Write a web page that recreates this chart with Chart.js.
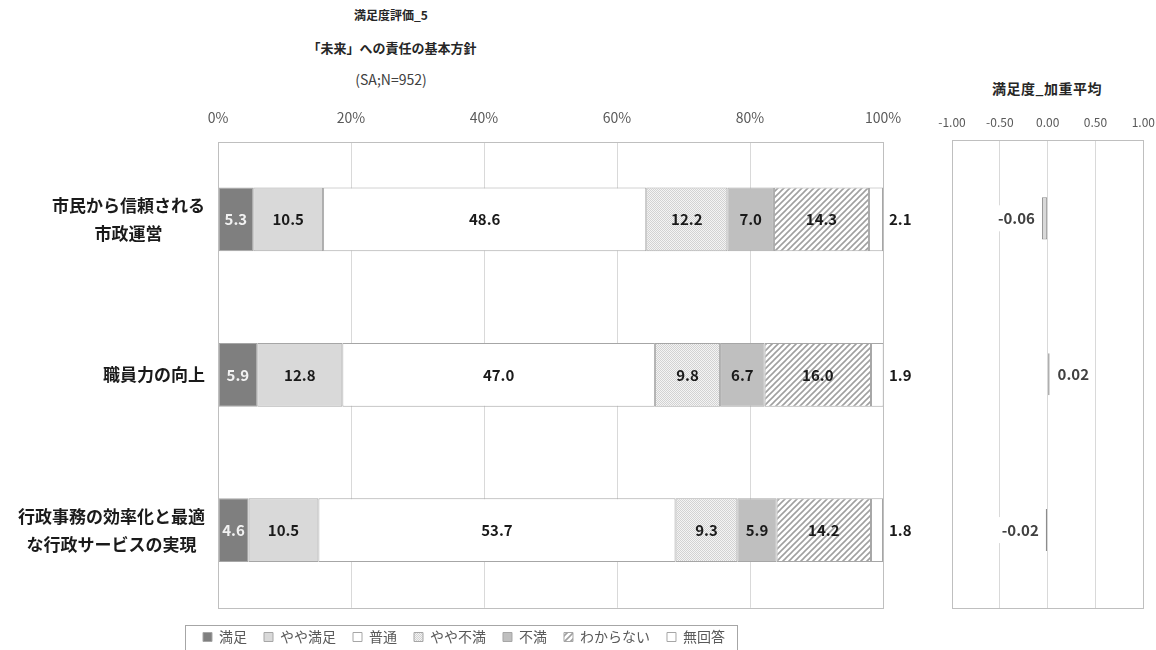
<!DOCTYPE html>
<html lang="ja">
<head>
<meta charset="utf-8">
<title>満足度評価_5</title>
<script src="https://cdn.jsdelivr.net/npm/chart.js@4.4.1/dist/chart.umd.min.js"></script>
<style>
  html, body { margin: 0; padding: 0; background: #fff; overflow: hidden; width: 1156px; height: 650px; }
  body { position: relative; font-family: "Noto Sans CJK JP", sans-serif; color: #262626; }
  .t { position: absolute; white-space: nowrap; transform: translateX(-50%); line-height: 1; }
  #main { position: absolute; left: 0; top: 0; }
  #avg { position: absolute; left: 920px; top: 0; }
</style>
</head>
<body>
<div class="t" style="left:391px;top:9px;font-size:12px;font-weight:bold;">満足度評価_5</div>
<div class="t" style="left:392px;top:41px;font-size:13px;font-weight:bold;">「未来」への責任の基本方針</div>
<div class="t" style="left:391px;top:72px;font-size:14px;color:#404040;">(SA;N=952)</div>
<div class="t" style="left:1047px;top:81px;font-size:14px;font-weight:bold;letter-spacing:0.5px;">満足度_加重平均</div>
<canvas id="main" width="928" height="654"></canvas>
<canvas id="avg" width="246" height="650"></canvas>
<script>
const FONT = '"Noto Sans CJK JP", sans-serif';

// data
const categories = [
  ['市民から信頼される', '市政運営'],
  ['職員力の向上'],
  ['行政事務の効率化と最適', 'な行政サービスの実現']
];
const seriesNames = ['満足', 'やや満足', '普通', 'やや不満', '不満', 'わからない', '無回答'];
const manzoku    = [5.3, 5.9, 4.6];
const yayaManzoku = [10.5, 12.8, 10.5];
const futsuu     = [48.6, 47.0, 53.7];
const yayaFuman  = [12.2, 9.8, 9.3];
const fuman      = [7.0, 6.7, 5.9];
const wakaranai  = [14.3, 16.0, 14.2];
const mukaitou   = [2.1, 1.9, 1.8];
const pctTicks = [0, 20, 40, 60, 80, 100];

const avgValues = [-0.06, 0.02, -0.02];
const avgTicks = [-1, -0.5, 0, 0.5, 1];

// patterns
function dotPattern() {
  const c = document.createElement('canvas');
  c.width = 2; c.height = 2;
  const g = c.getContext('2d');
  g.fillStyle = '#f4f4f4'; g.fillRect(0, 0, 2, 2);
  g.fillStyle = '#d2d2d2'; g.fillRect(0, 0, 1, 1); g.fillRect(1, 1, 1, 1);
  return g.createPattern(c, 'repeat');
}
function hatchPattern() {
  const c = document.createElement('canvas');
  c.width = 6; c.height = 6;
  const g = c.getContext('2d');
  g.fillStyle = '#ffffff'; g.fillRect(0, 0, 6, 6);
  g.strokeStyle = '#a0a0a0'; g.lineWidth = 1.6;
  g.beginPath();
  g.moveTo(0, 6); g.lineTo(6, 0);
  g.moveTo(-3, 3); g.lineTo(3, -3);
  g.moveTo(3, 9); g.lineTo(9, 3);
  g.stroke();
  return g.createPattern(c, 'repeat');
}

const fills = ['#7f7f7f', '#d9d9d9', '#ffffff', dotPattern(), '#bfbfbf', hatchPattern(), '#ffffff'];
const series = [manzoku, yayaManzoku, futsuu, yayaFuman, fuman, wakaranai, mukaitou];

const mainDeco = {
  id: 'mainDeco',
  afterDatasetsDraw(chart) {
    const ctx = chart.ctx;
    const a = chart.chartArea;
    ctx.save();
    ctx.strokeStyle = '#bfbfbf';
    ctx.lineWidth = 1;
    ctx.strokeRect(Math.round(a.left) + 0.5, Math.round(a.top) + 0.5,
      Math.round(a.right - a.left), Math.round(a.bottom - a.top));

    ctx.textBaseline = 'middle';
    ctx.font = 'bold 15px ' + FONT;
    const last = chart.data.datasets.length - 1;
    chart.data.datasets.forEach((ds, i) => {
      chart.getDatasetMeta(i).data.forEach((bar, j) => {
        const txt = ds.data[j].toFixed(1);
        ctx.fillStyle = i === 0 ? '#f2f2f2' : '#1a1a1a';
        if (i === last) {
          ctx.textAlign = 'left';
          ctx.fillText(txt, a.right + 6, bar.y);
        } else {
          ctx.textAlign = 'center';
          ctx.fillText(txt, (bar.x + bar.base) / 2, bar.y);
        }
      });
    });

    // category labels, each line centred inside a right-aligned block
    ctx.font = 'bold 17px ' + FONT;
    ctx.fillStyle = '#1a1a1a';
    ctx.textAlign = 'center';
    const yScale = chart.scales.y;
    const lh = 28;
    chart.data.labels.forEach((lines, j) => {
      const cy = yScale.getPixelForValue(j);
      const w = Math.max(...lines.map(s => ctx.measureText(s).width));
      const cx = a.left - 13 - w / 2;
      lines.forEach((s, k) => {
        ctx.fillText(s, cx, cy + (k - (lines.length - 1) / 2) * lh);
      });
    });
    ctx.restore();
  },
  afterDraw(chart) {
    const lg = chart.legend;
    const hb = lg.legendHitBoxes;
    if (!hb || !hb.length) return;
    const ctx = chart.ctx;
    const first = hb[0], end = hb[hb.length - 1];
    const left = Math.round(first.left - 18) + 0.5;
    const right = Math.round(end.left + end.width + 12) + 0.5;
    const top = Math.round(first.top + first.height / 2 - 12) + 0.5;
    ctx.save();
    ctx.strokeStyle = '#a6a6a6';
    ctx.lineWidth = 1;
    ctx.strokeRect(left, top, right - left, chart.height + 10 - top);
    ctx.restore();
  }
};

new Chart(document.getElementById('main'), {
  type: 'bar',
  data: {
    labels: categories,
    datasets: series.map((d, i) => ({
      label: seriesNames[i],
      data: d,
      backgroundColor: fills[i],
      borderColor: '#a6a6a6',
      borderWidth: 1,
      borderSkipped: false,
      barPercentage: 0.41,
      categoryPercentage: 1
    }))
  },
  options: {
    indexAxis: 'y',
    responsive: false,
    animation: false,
    layout: { padding: { top: 93, left: 0, right: 0, bottom: 0 } },
    scales: {
      x: {
        position: 'top',
        stacked: true,
        min: pctTicks[0],
        max: pctTicks[pctTicks.length - 1],
        afterBuildTicks: s => { s.ticks = pctTicks.map(v => ({ value: v })); },
        ticks: {
          callback: v => v + '%',
          color: '#595959',
          font: { size: 14, family: FONT },
          padding: 16
        },
        grid: { color: '#d9d9d9', drawTicks: false },
        border: { display: false }
      },
      y: {
        stacked: true,
        grid: { display: false },
        border: { display: false },
        ticks: { display: false },
        afterFit: s => { s.width = 218; }
      },
      y2: {
        type: 'category',
        position: 'right',
        grid: { display: false },
        border: { display: false },
        ticks: { display: false },
        afterFit: s => { s.width = 45; }
      }
    },
    plugins: {
      legend: {
        position: 'bottom',
        title: { display: true, text: '', font: { size: 1 }, padding: { top: 0, bottom: 4 } },
        labels: {
          boxWidth: 9,
          boxHeight: 9,
          padding: 17,
          color: '#595959',
          font: { size: 14, family: FONT }
        }
      },
      tooltip: { enabled: false }
    }
  },
  plugins: [mainDeco]
});

// weighted average chart
const avgDeco = {
  id: 'avgDeco',
  afterDatasetsDraw(chart) {
    const ctx = chart.ctx;
    const a = chart.chartArea;
    ctx.save();
    ctx.strokeStyle = '#bfbfbf';
    ctx.lineWidth = 1;
    ctx.strokeRect(Math.round(a.left) + 0.5, Math.round(a.top) + 0.5,
      Math.round(a.right - a.left), Math.round(a.bottom - a.top));
    ctx.font = 'bold 15px ' + FONT;
    ctx.textBaseline = 'middle';
    const ds = chart.data.datasets[0];
    chart.getDatasetMeta(0).data.forEach((bar, j) => {
      const v = ds.data[j];
      const txt = v.toFixed(2);
      const w = ctx.measureText(txt).width;
      let x0;
      if (v < 0) x0 = Math.min(bar.x, bar.base) - 7 - w;
      else x0 = Math.max(bar.x, bar.base) + 8;
      ctx.fillStyle = '#ffffff';
      ctx.fillRect(x0 - 3, bar.y - 13, w + 6, 26);
      ctx.fillStyle = '#404040';
      ctx.textAlign = 'left';
      ctx.fillText(txt, x0, bar.y);
    });
    ctx.restore();
  }
};

new Chart(document.getElementById('avg'), {
  type: 'bar',
  data: {
    labels: categories,
    datasets: [{
      label: '満足度_加重平均',
      data: avgValues,
      backgroundColor: ['#d9d9d9', '#bfbfbf', '#a6a6a6'],
      borderColor: '#8c8c8c',
      borderWidth: 1,
      borderSkipped: false,
      barPercentage: 0.27,
      categoryPercentage: 1
    }]
  },
  options: {
    indexAxis: 'y',
    responsive: false,
    animation: false,
    layout: { padding: { top: 104, left: 0, right: 0, bottom: 42 } },
    scales: {
      x: {
        position: 'top',
        min: avgTicks[0],
        max: avgTicks[avgTicks.length - 1],
        afterBuildTicks: s => { s.ticks = avgTicks.map(v => ({ value: v })); },
        ticks: {
          callback: v => Number(v).toFixed(2),
          color: '#595959',
          font: { size: 12, family: FONT },
          padding: 11,
          maxRotation: 0
        },
        grid: { color: '#d9d9d9', drawTicks: false },
        border: { display: false }
      },
      y: {
        grid: { display: false },
        border: { display: false },
        ticks: { display: false },
        afterFit: s => { s.width = 32; }
      },
      y2: {
        type: 'category',
        position: 'right',
        grid: { display: false },
        border: { display: false },
        ticks: { display: false },
        afterFit: s => { s.width = 13; }
      }
    },
    plugins: {
      legend: { display: false },
      tooltip: { enabled: false }
    }
  },
  plugins: [avgDeco]
});
</script>
</body>
</html>
